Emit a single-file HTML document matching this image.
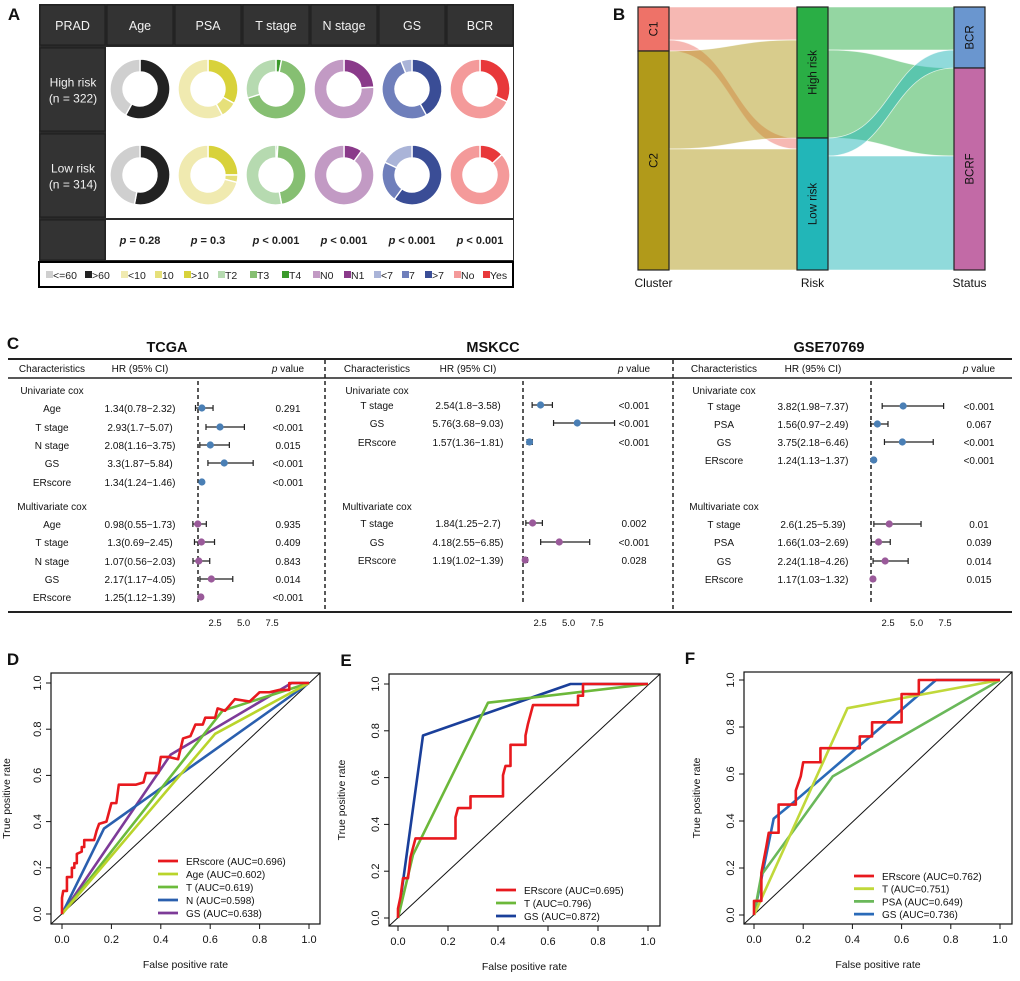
<!DOCTYPE html>
<html><head><meta charset="utf-8">
<style>
html,body{margin:0;padding:0;background:#fff;}
svg{display:block;font-family:"Liberation Sans",Arial,sans-serif;}
</style></head>
<body>
<svg id="fig" width="1020" height="981" viewBox="0 0 1020 981" xmlns="http://www.w3.org/2000/svg">
<rect x="0" y="0" width="1020" height="981" fill="#fff"/>
<g id="panelA"></g>
<g id="panelB"></g>
<g id="panelC"></g>
<g id="panelD"></g>
<g id="panelE"></g>
<g id="panelF"></g>
</svg>
<script>
// ===== Panel A data =====
const aColumns = ["Age","PSA","T stage","N stage","GS","BCR"];
const aPvals = ["p = 0.28","p = 0.3","p < 0.001","p < 0.001","p < 0.001","p < 0.001"];
const aCatColors = [["#222222","#cfcfcf"],["#d8d23a","#e6e07a","#f0eab0"],["#3a9a2a","#86bf72","#b6dab0"],["#8a3a8a","#c29ac4"],["#3a4d96","#6f7fbb","#aab4d8"],["#e8383a","#f49a9a"]];
const aHigh = [[0.58,0.42],[0.33,0.09,0.58],[0.03,0.67,0.30],[0.24,0.76],[0.42,0.52,0.06],[0.32,0.68]];
const aLow = [[0.53,0.47],[0.25,0.04,0.71],[0.01,0.46,0.53],[0.10,0.90],[0.60,0.22,0.18],[0.13,0.87]];
const aLegendLabels = ["<=60",">60","<10","10",">10","T2","T3","T4","N0","N1","<7","7",">7","No","Yes"];
const aLegendColors = ["#cfcfcf","#222222","#f0eab0","#e6e07a","#d8d23a","#b6dab0","#86bf72","#3a9a2a","#c29ac4","#8a3a8a","#aab4d8","#6f7fbb","#3a4d96","#f49a9a","#e8383a"];

// ===== Panel B data =====
const bCluster = [["C1",44],["C2",219]];
const bRisk = [["High risk",131],["Low risk",132]];
const bStatus = [["BCR",61],["BCRF",202]];
// flows: [from, to, size]
const bFlowsL = [[0,0,33],[0,1,11],[1,0,98],[1,1,121]];
const bFlowsR = [[0,0,43],[0,1,88],[1,0,18],[1,1,114]];

// ===== Panel C data =====
const tcgaLabels = ["Age","T stage","N stage","GS","ERscore"];
const tcgaUniHR = [1.34,2.93,2.08,3.3,1.34];
const tcgaUniLo = [0.78,1.7,1.16,1.87,1.24];
const tcgaUniHi = [2.32,5.07,3.75,5.84,1.46];
const tcgaUniP = ["0.291","<0.001","0.015","<0.001","<0.001"];
const tcgaMulHR = [0.98,1.3,1.07,2.17,1.25];
const tcgaMulLo = [0.55,0.69,0.56,1.17,1.12];
const tcgaMulHi = [1.73,2.45,2.03,4.05,1.39];
const tcgaMulP = ["0.935","0.409","0.843","0.014","<0.001"];
const mskLabels = ["T stage","GS","ERscore"];
const mskUniHR = [2.54,5.76,1.57];
const mskUniLo = [1.8,3.68,1.36];
const mskUniHi = [3.58,9.03,1.81];
const mskUniP = ["<0.001","<0.001","<0.001"];
const mskMulHR = [1.84,4.18,1.19];
const mskMulLo = [1.25,2.55,1.02];
const mskMulHi = [2.7,6.85,1.39];
const mskMulP = ["0.002","<0.001","0.028"];
const gseLabels = ["T stage","PSA","GS","ERscore"];
const gseUniHR = [3.82,1.56,3.75,1.24];
const gseUniLo = [1.98,0.97,2.18,1.13];
const gseUniHi = [7.37,2.49,6.46,1.37];
const gseUniP = ["<0.001","0.067","<0.001","<0.001"];
const gseMulHR = [2.6,1.66,2.24,1.17];
const gseMulLo = [1.25,1.03,1.18,1.03];
const gseMulHi = [5.39,2.69,4.26,1.32];
const gseMulP = ["0.01","0.039","0.014","0.015"];
const forestTicks = [2.5,5.0,7.5];
const forestTickLabels = ["2.5","5.0","7.5"];

// ===== ROC data =====
const rocTicks = [0,0.2,0.4,0.6,0.8,1.0];
const rocTickLabels = ["0.0","0.2","0.4","0.6","0.8","1.0"];
const dNames = ["ERscore (AUC=0.696)","Age (AUC=0.602)","T (AUC=0.619)","N (AUC=0.598)","GS (AUC=0.638)"];
const dErFpr = [0,0,0.005,0.02,0.02,0.04,0.04,0.05,0.05,0.06,0.06,0.08,0.08,0.09,0.09,0.1,0.13,0.14,0.15,0.18,0.19,0.2,0.22,0.23,0.3,0.33,0.34,0.39,0.4,0.43,0.47,0.49,0.52,0.54,0.57,0.58,0.62,0.63,0.66,0.7,0.76,0.8,0.84,0.88,0.92,0.92,1];
const dErTpr = [0,0.07,0.1,0.1,0.16,0.16,0.2,0.2,0.22,0.22,0.26,0.27,0.29,0.29,0.32,0.32,0.32,0.36,0.39,0.4,0.44,0.48,0.48,0.56,0.56,0.57,0.61,0.61,0.68,0.68,0.67,0.76,0.77,0.82,0.82,0.85,0.85,0.89,0.88,0.93,0.92,0.96,0.96,0.97,0.97,1.0,1];
const dAgeFpr = [0,0.62,1], dAgeTpr = [0,0.78,1];
const dTFpr = [0,0.65,1], dTTpr = [0,0.88,1];
const dNFpr = [0,0.17,1], dNTpr = [0,0.37,1];
const dGsFpr = [0,0.44,0.93,1], dGsTpr = [0,0.69,1,1];
const eNames = ["ERscore (AUC=0.695)","T (AUC=0.796)","GS (AUC=0.872)"];
const eErFpr = [0,0,0.01,0.02,0.04,0.05,0.06,0.07,0.23,0.23,0.24,0.29,0.29,0.42,0.42,0.43,0.45,0.45,0.51,0.51,0.52,0.53,0.54,0.72,0.72,0.74,0.74,1];
const eErTpr = [0,0.04,0.09,0.17,0.17,0.26,0.3,0.34,0.34,0.43,0.47,0.47,0.52,0.52,0.61,0.65,0.65,0.74,0.74,0.78,0.83,0.87,0.91,0.91,0.95,0.95,1,1];
const eTFpr = [0,0.06,0.36,1], eTTpr = [0,0.27,0.92,1];
const eGsFpr = [0,0.1,0.69,1], eGsTpr = [0,0.78,1,1];
const fNames = ["ERscore (AUC=0.762)","T (AUC=0.751)","PSA (AUC=0.649)","GS (AUC=0.736)"];
const fErFpr = [0,0,0.03,0.03,0.05,0.06,0.1,0.1,0.17,0.17,0.19,0.2,0.27,0.27,0.43,0.43,0.48,0.48,0.6,0.6,0.67,0.67,1];
const fErTpr = [0,0.06,0.06,0.18,0.29,0.35,0.35,0.47,0.47,0.53,0.59,0.65,0.65,0.71,0.71,0.76,0.76,0.82,0.82,0.94,0.94,1,1];
const fTFpr = [0,0.38,1], fTTpr = [0,0.88,1];
const fPsaFpr = [0,0.03,0.32,1], fPsaTpr = [0,0.17,0.59,1];
const fGsFpr = [0,0.08,0.15,0.74,1], fGsTpr = [0,0.41,0.47,1,1];

const NS = "http://www.w3.org/2000/svg";
function mk(parent, tag, attrs, txt){
  const e = document.createElementNS(NS, tag);
  for (const k in attrs) e.setAttribute(k, attrs[k]);
  if (txt !== undefined) e.textContent = txt;
  parent.appendChild(e);
  return e;
}
function label(parent, x, y, s, size, extra){
  const a = Object.assign({x:x, y:y, "font-size":size, "text-anchor":"middle", fill:"#111"}, extra||{});
  return mk(parent, "text", a, s);
}

// ===================== PANEL A =====================
(function(){
  const g = document.getElementById("panelA");
  let t = label(g, 14, 20, "A", 17, {"font-weight":"bold"});
  
  
  let bg = mk(g, "rect", {x:39, y:4, width:475, height:259, fill:"#2a2a2a"});
  
  
  let wb = mk(g, "rect", {x:106, y:47, width:407, height:171, fill:"#fff"});
  
  
  let wp = mk(g, "rect", {x:106, y:220, width:407, height:40, fill:"#fff"});
  
  
  const colX = [106,174,242,310,378,446,514];
  const headers = ["PRAD"].concat(aColumns);
  const hx = [39].concat(colX);
  for (let i=0;i<7;i++){
    const x0 = hx[i]+1, x1 = hx[i+1]-1;
    let r = mk(g, "rect", {x:x0, y:5, width:x1-x0, height:40, fill:"#333", stroke:"#1c1c1c", "stroke-width":1});
    
    
    let ht = label(g, (x0+x1)/2, 30, headers[i], 12.5, {fill:"#f2f2f2"});
    
    
  }
  const rowLabels = [["High risk","(n = 322)",48,131],["Low risk","(n = 314)",134,217],["","",220,260]];
  rowLabels.forEach(function(r){
    let c = mk(g, "rect", {x:40, y:r[2], width:65, height:r[3]-r[2], fill:"#333", stroke:"#1c1c1c", "stroke-width":1});
    
    
    if (r[0]){
      const cy=(r[2]+r[3])/2;
      let a1 = label(g, 73, cy-3, r[0], 12, {fill:"#f2f2f2"});
      
      
      let a2 = label(g, 73, cy+13, r[1], 12, {fill:"#f2f2f2"});
      
      
    }
  });
  function arc(cx, cy, R, r, f0, f1){
    const a0 = f0*2*Math.PI - Math.PI/2, a1 = f1*2*Math.PI - Math.PI/2;
    const large = (f1-f0) > 0.5 ? 1 : 0;
    const p = (rad, a) => [cx+rad*Math.cos(a), cy+rad*Math.sin(a)];
    const A=p(R,a0), B=p(R,a1), C=p(r,a1), D=p(r,a0);
    return "M"+A+" A"+R+","+R+" 0 "+large+" 1 "+B+" L"+C+" A"+r+","+r+" 0 "+large+" 0 "+D+" Z";
  }
  const centersX = [140,208,276,344,412,480];
  [[aHigh,89],[aLow,175]].forEach(function(row){
    row[0].forEach(function(fr, ci){
      let acc = 0;
      fr.forEach(function(v, si){
        let p = mk(g, "path", {d:arc(centersX[ci], row[1], 30, 17, acc, Math.min(acc+v,0.99999)), fill:aCatColors[ci][si], stroke:"#fff", "stroke-width":1.4});
        
        
        acc += v;
      });
    });
  });
  aPvals.forEach(function(s, i){
    const parts = s.split("p");
    let tx = mk(g, "text", {x:centersX[i], y:244, "font-size":11, "text-anchor":"middle", "font-weight":"bold", fill:"#222"});
    
    
    mk(tx, "tspan", {"font-style":"italic"}, "p");
    mk(tx, "tspan", {}, parts[1]);
  });
  let lb = mk(g, "rect", {x:39, y:262, width:474, height:25, fill:"#fff", stroke:"#000", "stroke-width":2});
  
  
  const lx = [46,85,121,155,184,218,250,282,313,344,374,402,425,454,483];
  aLegendLabels.forEach(function(s, i){
    let sq = mk(g, "rect", {x:lx[i], y:271, width:7, height:7, fill:aLegendColors[i]});
    
    
    let tx = mk(g, "text", {x:lx[i]+7, y:279, "font-size":10.5, fill:"#222"}, s);
    
    
  });
})();

// ===================== PANEL B =====================
(function(){
  const g = document.getElementById("panelB");
  let t = label(g, 619, 20, "B", 17, {"font-weight":"bold"});
  
  
  const top = 7, bottom = 270;
  const total = bCluster.reduce((s,v)=>s+v[1],0);
  const k = (bottom-top)/total;
  const axesX = [638, 797, 954], w = 31;
  const nodeCols = [["#ee7268","#b19a1a"],["#2aae45","#22b6b8"],["#6a96cf","#c26aa6"]];
  const flowCols = [["rgba(238,114,104,0.5)","rgba(177,154,26,0.5)"],["rgba(42,174,69,0.5)","rgba(34,182,184,0.5)"]];
  const axes = [bCluster, bRisk, bStatus];
  const starts = axes.map(function(ax){ let y=top; return ax.map(function(n){ const s=y; y+=n[1]*k; return s; }); });
  function ribbon(x0, a0, b0, x1, a1, b1){
    const m = (x0+x1)/2;
    return "M"+x0+","+a0+" C"+m+","+a0+" "+m+","+a1+" "+x1+","+a1+" L"+x1+","+b1+" C"+m+","+b1+" "+m+","+b0+" "+x0+","+b0+" Z";
  }
  [[bFlowsL,0],[bFlowsR,1]].forEach(function(fl){
    const L = fl[1];
    const outOff = starts[L].slice(), inOff = starts[L+1].slice();
    // order incoming by source
    const inOrder = fl[0].slice().sort((a,b)=>a[1]-b[1]||a[0]-b[0]);
    const inPos = {};
    inOrder.forEach(function(f){ inPos[f[0]+"_"+f[1]] = inOff[f[1]]; inOff[f[1]] += f[2]*k; });
    fl[0].forEach(function(f){
      const a0 = outOff[f[0]], b0 = a0 + f[2]*k; outOff[f[0]] = b0;
      const a1 = inPos[f[0]+"_"+f[1]], b1 = a1 + f[2]*k;
      let p = mk(g, "path", {d:ribbon(axesX[L]+w, a0, b0, axesX[L+1], a1, b1), fill:flowCols[L][f[0]], stroke:"rgba(255,255,255,0.7)", "stroke-width":0.8});
      
      
    });
  });
  axes.forEach(function(ax, ai){
    ax.forEach(function(n, ni){
      const y0 = starts[ai][ni], h = n[1]*k;
      let r = mk(g, "rect", {x:axesX[ai], y:y0, width:w, height:h, fill:nodeCols[ai][ni], stroke:"#222", "stroke-width":1.2});
      
      
      const cx = axesX[ai]+w/2+4, cy = y0+h/2;
      let tx = mk(g, "text", {x:cx, y:cy, "font-size":11.5, "text-anchor":"middle", fill:"#111", transform:"rotate(-90 "+cx+" "+cy+")"}, n[0]);
      
      
    });
  });
  ["Cluster","Risk","Status"].forEach(function(s, i){
    let tx = label(g, axesX[i]+w/2, 287, s, 12);
    
    
  });
})();

// ===================== PANEL C =====================
(function(){
  const g = document.getElementById("panelC");
  let t = label(g, 13, 349, "C", 17, {"font-weight":"bold"});
  
  
  [[359,2],[378,1.5],[612,2]].forEach(function(l){
    let ln = mk(g, "line", {x1:8, x2:1012, y1:l[0], y2:l[0], stroke:"#222", "stroke-width":l[1]});
    
    
  });
  [325, 673].forEach(function(x){
    let ln = mk(g, "line", {x1:x, x2:x, y1:360, y2:611, stroke:"#222", "stroke-width":1.5, "stroke-dasharray":"4,3"});
    
    
  });
  const sections = [
    {title:"TCGA", tx:167, cx:52, hx:140, nx:198, px:288, labels:tcgaLabels, uni:[tcgaUniHR,tcgaUniLo,tcgaUniHi,tcgaUniP], mul:[tcgaMulHR,tcgaMulLo,tcgaMulHi,tcgaMulP], uy:[408,427,445,463,482], my:[524,542,561,579,597]},
    {title:"MSKCC", tx:493, cx:377, hx:468, nx:523, px:634, labels:mskLabels, uni:[mskUniHR,mskUniLo,mskUniHi,mskUniP], mul:[mskMulHR,mskMulLo,mskMulHi,mskMulP], uy:[405,423,442], my:[523,542,560]},
    {title:"GSE70769", tx:829, cx:724, hx:813, nx:871, px:979, labels:gseLabels, uni:[gseUniHR,gseUniLo,gseUniHi,gseUniP], mul:[gseMulHR,gseMulLo,gseMulHi,gseMulP], uy:[406,424,442,460], my:[524,542,561,579]}
  ];
  const unit = 11.4;
  sections.forEach(function(s){
    const xs = v => s.nx + (v-1)*unit;
    let tt = label(g, s.tx, 352, s.title, 14.5, {"font-weight":"bold"});
    
    
    let h1 = label(g, s.cx, 372, "Characteristics", 10);
    
    
    let h2 = label(g, s.hx, 372, "HR (95% CI)", 10);
    
    
    let h3 = mk(g, "text", {x:s.px, y:372, "font-size":10, "text-anchor":"middle", fill:"#111"});
    
    
    mk(h3, "tspan", {"font-style":"italic"}, "p");
    mk(h3, "tspan", {}, " value");
    let nl = mk(g, "line", {x1:s.nx, x2:s.nx, y1:381, y2:605, stroke:"#222", "stroke-width":1.5, "stroke-dasharray":"4,3"});
    
    
    let u = label(g, s.cx, 394, "Univariate cox", 10);
    
    
    let m = label(g, s.cx, 510, "Multivariate cox", 10);
    
    
    [[s.uni, s.uy, "#4a7fb5"],[s.mul, s.my, "#9a5a9a"]].forEach(function(grp){
      const d = grp[0];
      s.labels.forEach(function(lab, i){
        const y = grp[1][i];
        let a = label(g, s.cx, y+4, lab, 10);
        
        
        let b = label(g, s.hx, y+4, d[0][i]+"("+d[1][i]+"\u2212"+d[2][i]+")", 10);
        
        
        let c = label(g, s.px, y+4, d[3][i], 10);
        
        
        const xl = xs(d[1][i]), xh = xs(d[2][i]);
        let ci = mk(g, "path", {d:"M"+xl+","+y+" H"+xh+" M"+xl+","+(y-3)+" V"+(y+3)+" M"+xh+","+(y-3)+" V"+(y+3), stroke:"#222", "stroke-width":1.2, fill:"none"});
        
        
        let pt = mk(g, "circle", {cx:xs(d[0][i]), cy:y, r:3.6, fill:grp[2]});
        
        
      });
    });
    forestTicks.forEach(function(v, i){
      let tk = label(g, xs(v), 626, forestTickLabels[i], 9.5);
      
      
    });
  });
})();

// ===================== ROC PANELS =====================
function drawRoc(gid, letter, lx, box, x0, x1, y0, y1, ytx, series, legend){
  const g = document.getElementById(gid);
  const X = v => x0 + v*(x1-x0), Y = v => y0 + v*(y1-y0);
  let t = label(g, lx, box[1]-8, letter, 17, {"font-weight":"bold"});
  
  
  let bx = mk(g, "rect", {x:box[0], y:box[1], width:box[2]-box[0], height:box[3]-box[1], fill:"none", stroke:"#111", "stroke-width":1.2});
  
  
  rocTicks.forEach(function(v, i){
    let tx = mk(g, "line", {x1:X(v), x2:X(v), y1:box[3], y2:box[3]+5, stroke:"#111"});
    
    
    let xl = label(g, X(v), box[3]+19, rocTickLabels[i], 11);
    
    
    let ty = mk(g, "line", {x1:box[0]-5, x2:box[0], y1:Y(v), y2:Y(v), stroke:"#111"});
    
    
    const yx = box[0]-10;
    let yl = mk(g, "text", {x:yx, y:Y(v), "font-size":11, "text-anchor":"middle", fill:"#111", transform:"rotate(-90 "+yx+" "+Y(v)+")"}, rocTickLabels[i]);
    
    
  });
  let xt = label(g, (box[0]+box[2])/2, box[3]+44, "False positive rate", 10.5);
  
  
  const cy = (box[1]+box[3])/2;
  let yt = mk(g, "text", {x:ytx, y:cy, "font-size":10.5, "text-anchor":"middle", fill:"#111", transform:"rotate(-90 "+ytx+" "+cy+")"}, "True positive rate");
  
  
  const cl = mk(g, "clipPath", {id:"clip"+gid});
  mk(cl, "rect", {x:box[0], y:box[1], width:box[2]-box[0], height:box[3]-box[1]});
  let dg = mk(g, "line", {x1:box[0], y1:box[3], x2:box[2], y2:box[1], stroke:"#111", "stroke-width":1});
  
  
  for (let s = series.length-1; s >= 0; s--){
    const sr = series[s];
    const pts = sr[0].map((v,i)=>X(v)+","+Y(sr[1][i])).join(" ");
    let pl = mk(g, "polyline", {points:pts, fill:"none", stroke:sr[2], "stroke-width":2.6, "stroke-linejoin":"round"});
    
    
  }
  series.forEach(function(sr, i){
    const y = legend[1] + i*legend[3];
    let ln = mk(g, "line", {x1:legend[0], x2:legend[0]+20, y1:y, y2:y, stroke:sr[2], "stroke-width":2.8});
    
    
    let tx = mk(g, "text", {x:legend[0]+28, y:y+4, "font-size":10, fill:"#111"}, legend[2][i]);
    
    
  });
}
drawRoc("panelD","D",13,[51,673,320,924],62,309,914,683,10,
  [[dErFpr,dErTpr,"#e8191e"],[dAgeFpr,dAgeTpr,"#b9d42a"],[dTFpr,dTTpr,"#6cbb3c"],[dNFpr,dNTpr,"#2a5fae"],[dGsFpr,dGsTpr,"#7d3b98"]],
  [158,861,dNames,13]);
drawRoc("panelE","E",346,[389,674,660,926],398,648,918,684,345,
  [[eErFpr,eErTpr,"#e8191e"],[eTFpr,eTTpr,"#6cb83a"],[eGsFpr,eGsTpr,"#1a3f9a"]],
  [496,890,eNames,13]);
drawRoc("panelF","F",690,[744,672,1012,924],754,1000,915,680,700,
  [[fErFpr,fErTpr,"#e8191e"],[fTFpr,fTTpr,"#c0d83a"],[fPsaFpr,fPsaTpr,"#6ab85a"],[fGsFpr,fGsTpr,"#2a6ab8"]],
  [854,876,fNames,12.7]);
</script>
</body></html>
